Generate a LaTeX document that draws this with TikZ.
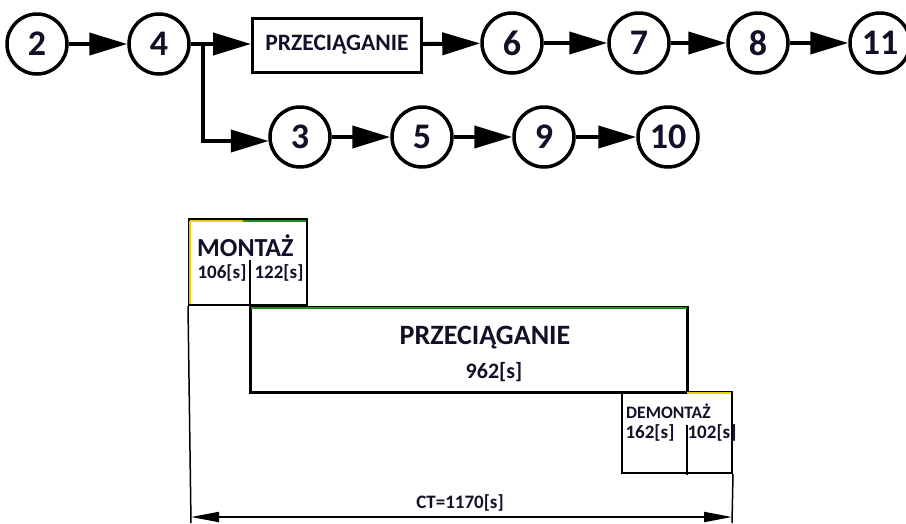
\documentclass[tikz,border=0pt]{standalone}
\usepackage{fontspec}
\setmainfont{Carlito}
\usetikzlibrary{arrows.meta}

\definecolor{txt}{HTML}{101028}
\definecolor{edgegreen}{HTML}{1E8C1E}
\definecolor{edgeyellow}{HTML}{E6D200}

\tikzset{
  opnode/.style={circle, draw=black, line width=3.5pt, minimum size=60pt, inner sep=0pt,
                 font=\fontsize{36}{36}\selectfont\bfseries, text=txt},
  flow/.style={line width=4pt, -{Triangle[length=38pt,width=22pt]}},
  flowline/.style={line width=4pt},
  taskbox/.style={draw=black, line width=3pt, inner sep=0pt},
  ganttbox/.style={draw=black, line width=2pt, inner sep=0pt},
  guide/.style={line width=1.5pt},
  bigtxt/.style={font=\fontsize{#1}{#1}\selectfont\bfseries, text=txt, inner sep=0pt},
  dim/.style={line width=2pt, {Triangle[length=28pt,width=10pt]}-{Triangle[length=28pt,width=10pt]}}
}

\begin{document}
\begin{tikzpicture}[x=1pt, y=-1pt]
\useasboundingbox (0,0) rectangle (906,523);

% ---------- process network ----------
\node[opnode] (n2)  at (37,44)  {2};
\node[opnode] (n4)  at (159,44) {4};
\node[taskbox, minimum width=169pt, minimum height=54pt,
      font=\fontsize{23.5}{23.5}\selectfont\bfseries, text=txt] (prz) at (337,45) {PRZECIĄGANIE};
\node[opnode] (n6)  at (512,43) {6};
\node[opnode] (n7)  at (639,43) {7};
\node[opnode] (n8)  at (758,43) {8};
\node[opnode] (n11) at (880,43) {11};

\node[opnode] (n3)  at (300,137) {3};
\node[opnode] (n5)  at (422,137) {5};
\node[opnode] (n9)  at (544,137) {9};
\node[opnode] (n10) at (668,137) {10};

\coordinate (fork) at (203,44);
\coordinate (bend) at (203,141);

\draw[flow] (n2) -- (n4);
\draw[flowline] (n4.east) -- (fork);
\draw[flow] (fork) -- (prz.west |- fork);
\draw[flowline] ([yshift=2pt]fork) -- (bend);
\draw[flow] ([xshift=-2pt]bend) -- ([xshift=0.5pt]n3.west |- bend);
\draw[flow] (prz) -- (n6);
\draw[flow] (n6) -- (n7);
\draw[flow] (n7) -- (n8);
\draw[flow] (n8) -- (n11);
\draw[flow] (n3) -- (n5);
\draw[flow] (n5) -- (n9);
\draw[flow] (n9) -- (n10);

% ---------- time chart ----------
% MONTAŻ
\node[ganttbox, minimum width=118pt, minimum height=85pt] (mont) at (248,262.5) {};
\draw[line width=3pt] (mont.north west) -- (mont.north east);
\draw[edgeyellow, line width=1.5pt] ([xshift=2pt,yshift=-2pt]mont.north west) -- ([xshift=2pt,yshift=2pt]mont.south west);
\draw[edgeyellow, line width=1.5pt] ([xshift=2pt,yshift=-2pt]mont.north west) -- ([xshift=55pt,yshift=-2pt]mont.north west);
\draw[edgegreen, line width=1.5pt] ([xshift=55pt,yshift=-2pt]mont.north west) -- ([xshift=-2pt,yshift=-2pt]mont.north east);
\node[bigtxt=26, anchor=west] (tm) at (197,246) {MONTAŻ};
\node[bigtxt=19] (t106) at (222,273) {106[s]};
\node[bigtxt=19] (t122) at (279,273) {122[s]};

% PRZECIĄGANIE
\node[taskbox, minimum width=437pt, minimum height=85pt] (prc) at (468.5,349.5) {};
\draw[edgegreen, line width=2pt] ([xshift=2pt,yshift=-2.5pt]prc.north west) -- ([xshift=-2pt,yshift=-2.5pt]prc.north east);
\node[bigtxt=28] (tp) at (485,338) {PRZECIĄGANIE};
\node[bigtxt=22] (t962) at (494,372) {962[s]};

% divider between the two MONTAŻ times, running down into the pulling bar
\coordinate (divtop) at (250,260);
\draw[guide] (divtop) -- (divtop |- prc.north);

% DEMONTAŻ
\node[ganttbox, minimum width=110pt, minimum height=81pt] (demo) at (677,432.5) {};
\draw[edgeyellow, line width=1.5pt] ([xshift=10pt,yshift=-2pt]demo.north) -- ([xshift=-2pt,yshift=-2pt]demo.north east);
\node[bigtxt=17.5, anchor=west] (td) at (626,411) {DEMONTAŻ};
\node[bigtxt=19] (t162) at (650,433) {162[s]};
\node[bigtxt=19] (t102) at (712,433) {102[s]};
\coordinate (ddtop) at (687,425);
\coordinate (ddbot) at (687,475);
\draw[guide] (ddtop) -- (ddbot);

% cycle-time dimension
\coordinate (lbot) at (191,523);
\coordinate (rbot) at (732,523);
\draw[guide] (mont.south west) -- (lbot);
\draw[guide] (demo.south east) -- (rbot);
\coordinate (dl) at (191,517);
\coordinate (dr) at (732,517);
\draw[dim] (dl) -- (dr);
\node[bigtxt=19] (ct) at (460,503) {CT=1170[s]};
\end{tikzpicture}
\end{document}
